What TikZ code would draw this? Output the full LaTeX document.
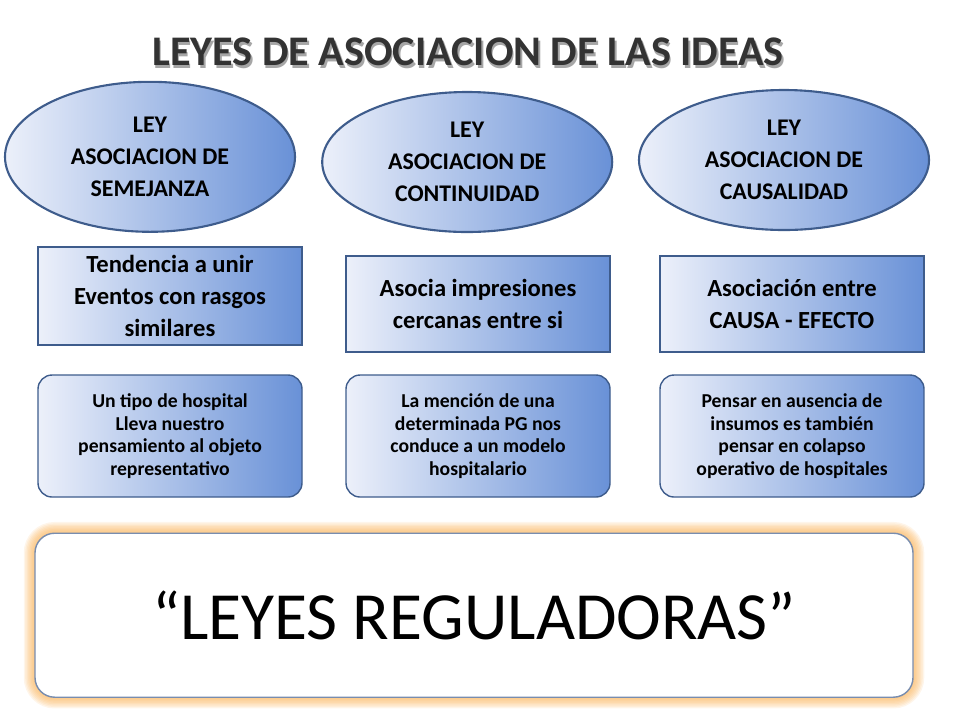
\documentclass[tikz,border=0pt]{standalone}
\usepackage{fontspec}
\setmainfont{Carlito}
\usetikzlibrary{shapes.geometric,positioning}
\definecolor{bordeazul}{RGB}{62,92,140}
\definecolor{azulfuerte}{RGB}{105,145,215}
\definecolor{azulclaro}{RGB}{236,240,250}
\definecolor{naranja}{RGB}{250,175,80}
\tikzset{
  ley/.style={ellipse, draw=bordeazul, line width=1.5pt, shading angle=135,
    left color=azulclaro, right color=azulfuerte, minimum width=7.25cm,
    minimum height=3.6cm, inner sep=0pt, align=center, font=\bfseries\fontsize{17}{22.7}\selectfont},
  idea/.style={rectangle, draw=bordeazul, line width=1pt, shading angle=135,
    left color=azulclaro, right color=azulfuerte, minimum width=6.6cm,
    minimum height=2.4cm, align=center, font=\bfseries\fontsize{17.5}{22.7}\selectfont},
  ejemplo/.style={rectangle, rounded corners=10pt, draw=bordeazul, line width=1pt,
    shading angle=135, left color=azulclaro, right color=azulfuerte,
    minimum width=6.6cm, minimum height=3.05cm, align=center,
    font=\bfseries\fontsize{14}{16.1}\selectfont},
  titulo/.style={font=\bfseries\fontsize{30}{34}\selectfont},
}
\begin{document}
\begin{tikzpicture}
\useasboundingbox (0,0) rectangle (24,-18);
% titulo
\node (sombra) [titulo, text=black!35] at (11.74,-1.36) {LEYES DE ASOCIACION DE LAS IDEAS};
\node (titulo) [titulo, text=black!80] at (11.7,-1.3) {LEYES DE ASOCIACION DE LAS IDEAS};
% leyes
\node (semejanza) [ley, minimum height=3.75cm] at (3.75,-3.92) {LEY\\ASOCIACION DE\\SEMEJANZA};
\node (continuidad) [ley, minimum height=3.5cm] at (11.68,-4.05) {LEY\\ASOCIACION DE\\CONTINUIDAD};
\node (causalidad) [ley, minimum height=3.5cm] at (19.6,-4.0) {LEY\\ASOCIACION DE\\CAUSALIDAD};
% definiciones
\node (tendencia) [idea, minimum height=2.45cm] at (4.25,-7.4) {Tendencia a unir\\Eventos con rasgos\\similares};
\node (impresiones) [idea] at (11.95,-7.6) {Asocia impresiones\\cercanas entre si};
\node (causa) [idea] at (19.8,-7.6) {Asociación entre\\CAUSA - EFECTO};
% ejemplos
\node (hospital) [ejemplo] at (4.25,-10.9) {Un tipo de hospital\\Lleva nuestro\\pensamiento al objeto\\representativo};
\node (mencion) [ejemplo] at (11.95,-10.9) {La mención de una\\determinada PG nos\\conduce a un modelo\\hospitalario};
\node (insumos) [ejemplo] at (19.8,-10.9) {Pensar en ausencia de\\insumos es también\\pensar en colapso\\operativo de hospitales};
% brillo naranja
\foreach \g in {1,...,8}
  \draw [naranja, opacity=0.12, line width=2*\g pt, rounded corners=14pt]
    (0.875,-13.33) rectangle (22.825,-17.43);
% leyes reguladoras
\node (reguladoras) [rectangle, rounded corners=14pt, draw=bordeazul!70, line width=1pt,
  fill=white, minimum width=21.95cm, minimum height=4.1cm,
  font=\fontsize{48}{50}\selectfont] at (11.85,-15.38)
  {“LEYES REGULADORAS”};
\end{tikzpicture}
\end{document}
